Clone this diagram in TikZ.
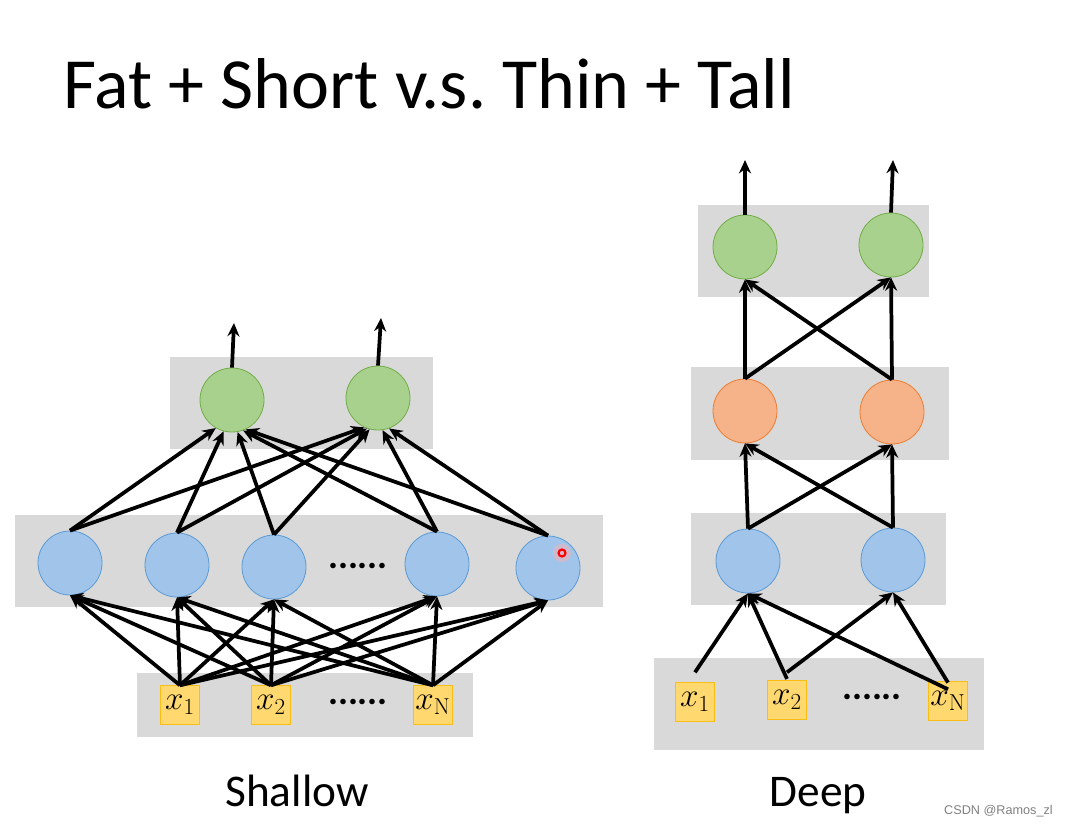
\documentclass[tikz,border=0pt]{standalone}
\usepackage[no-math]{fontspec}
\setmainfont{Carlito}
\newfontfamily\markfont{Liberation Sans}
\usepackage{tikz}
\usetikzlibrary{positioning,arrows.meta}
\usepackage{xcolor}
\definecolor{layergray}{RGB}{217,217,217}
\definecolor{bluefill}{RGB}{160,196,234}
\definecolor{blueline}{RGB}{91,155,213}
\definecolor{greenfill}{RGB}{169,209,142}
\definecolor{greenline}{RGB}{112,173,71}
\definecolor{orangefill}{RGB}{246,178,136}
\definecolor{orangeline}{RGB}{237,125,49}
\definecolor{inputfill}{RGB}{255,216,112}
\definecolor{inputline}{RGB}{250,190,20}
\frenchspacing
\tikzset{
	layer/.style={fill=layergray, draw=none},
	neuron/.style={circle, minimum size=48pt, inner sep=0pt, line width=0.6pt},
	hid/.style={neuron, fill=bluefill, draw=blueline},
	mid/.style={neuron, fill=orangefill, draw=orangeline},
	outn/.style={neuron, fill=greenfill, draw=greenline},
	inp/.style={rectangle, fill=inputfill, draw=inputline, line width=0.6pt, minimum width=29pt, minimum height=29pt, inner sep=0pt, font=\fontsize{26}{26}\selectfont},
	conn/.style={-{Stealth[length=10pt,width=9pt]}, line width=2.8pt},
	ellip/.style={inner sep=0pt, font=\bfseries\fontsize{28}{28}\selectfont}
}

\begin{document}
\begin{tikzpicture}[x=0.75pt, y=-0.75pt]
	\useasboundingbox (0,0) rectangle (1066,828);
	
	\node[anchor=base west, inner sep=0pt, font=\fontsize{54}{54}\selectfont] (title) at (63,108) {Fat + Short v.s. Thin + Tall};
	
	% shallow
	\fill[layer] (170,357) rectangle (433,449);
	\fill[layer] (15,515) rectangle (603,607);
	\fill[layer] (137,673) rectangle (473,737);
	
	\node[outn] (sg1) at (232,400) {};
	\node[outn] (sg2) at (378,398) {};
	\coordinate (so1) at (234,323);
	\coordinate (so2) at (381,318);
	
	\node[hid] (sh1) at (70,563) {};
	\node[hid] (sh2) at (177,565) {};
	\node[hid] (sh3) at (274,567) {};
	\node[hid] (sh4) at (437,564) {};
	\node[hid] (sh5) at (548,568) {};
	\node[ellip] (sdots) at (358,566) {......};
	
	\node[inp] (sx1) at (180,705) {$x_1$};
	\node[inp] (sx2) at (271,705) {$x_2$};
	\node[inp] (sxN) at (433,705) {$x_{\mathrm{N}}$};
	\node[ellip] (sxdots) at (358,702) {......};
	
	\foreach \i in {1,2,N}
		\foreach \h in {1,...,5}
			\draw[conn] (sx\i.north) -- (sh\h.south);
	\foreach \h/\a/\b in {1/-120/-115, 2/-105/-110, 3/-80/-105, 4/-70/-82, 5/-65/-70} {
		\draw[conn] (sh\h.north) -- (sg1.\a);
		\draw[conn] (sh\h.north) -- (sg2.\b);
	}
	\draw[conn] (sg1.north) -- (so1);
	\draw[conn] (sg2.north) -- (so2);
	
	\fill[red!30, opacity=0.5] (562,553) circle (9);
	\draw[red, line width=1.6pt] (562,553) circle (3.5);
	
	\node[anchor=base, inner sep=0pt, font=\fontsize{34}{34}\selectfont] (shallow) at (297,806) {Shallow};
	
	% deep
	\fill[layer] (698,205) rectangle (929,297);
	\fill[layer] (691,367) rectangle (949,460);
	\fill[layer] (691,513) rectangle (946,605);
	\fill[layer] (654,658) rectangle (984,750);
	
	\node[outn] (dg1) at (745,247) {};
	\node[outn] (dg2) at (891,245) {};
	\coordinate (do1) at (745,160);
	\coordinate (do2) at (893,160);
	
	\node[mid] (dm1) at (745,411) {};
	\node[mid] (dm2) at (892,412) {};
	
	\node[hid] (dh1) at (748,561) {};
	\node[hid] (dh2) at (893,560) {};
	
	\node[inp] (dx1) at (695,702) {$x_1$};
	\node[inp] (dx2) at (787,700) {$x_2$};
	\node[inp] (dxN) at (948,701) {$x_{\mathrm{N}}$};
	\node[ellip] (dxdots) at (872,697) {......};
	
	\foreach \s/\t/\d in {dx1/dh1/7.5pt, dx2/dh1/1pt, dx2/dh2/6pt, dxN/dh1/-6pt, dxN/dh2/-1pt}
		\draw[conn] ([yshift=\d]\s.north) -- (\t.south);
	\foreach \a in {1,2}
		\foreach \b in {1,2} {
			\draw[conn] (dh\a.north) -- (dm\b.south);
			\draw[conn] (dm\a.north) -- (dg\b.south);
		}
	\draw[conn] (dg1.north) -- (do1);
	\draw[conn] (dg2.north) -- (do2);
	
	\node[anchor=base, inner sep=0pt, font=\fontsize{34}{34}\selectfont] (deep) at (818,806) {Deep};
	
	\node[anchor=base east, inner sep=0pt, text=gray, font=\markfont\fontsize{9.5}{10}\selectfont] (mark) at (1053,814) {CSDN @Ramos\_zl};
\end{tikzpicture}
\end{document}
